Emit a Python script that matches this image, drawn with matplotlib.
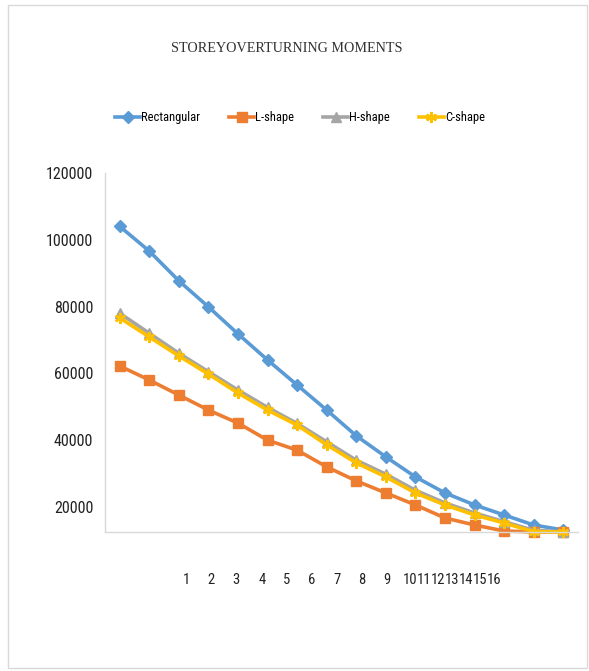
import matplotlib
matplotlib.use("Agg")
import matplotlib.pyplot as plt
from matplotlib.patches import Rectangle

# Storey overturning moments for four plan shapes
storeys = list(range(1, 17))
rectangular = [104000, 96600, 87700, 79900, 71800, 64000, 56500, 49000,
               41300, 35000, 29000, 24200, 20600, 17600, 14600, 13100]
l_shape = [62200, 58000, 53500, 49000, 45100, 40000, 37000, 32000,
           27800, 24200, 20600, 16700, 14600, 12800, 12500, 12500]
h_shape = [78000, 72000, 66000, 60500, 55000, 49800, 45000, 39500,
           34000, 29800, 25000, 21200, 18200, 15600, 13000, 12600]
c_shape = [76600, 70900, 65200, 59800, 54100, 49000, 44500, 38600,
           33200, 29000, 24200, 20600, 17600, 15200, 12600, 12500]

series_names = ["Rectangular", "L-shape", "H-shape", "C-shape"]
y_ticks = [20000, 40000, 60000, 80000, 100000, 120000]
x_tick_labels = [str(s) for s in storeys]

W, H = 589, 671
fig = plt.figure(figsize=(W / 100, H / 100), dpi=100)

# outer chart frame
fig.patches.append(Rectangle((8 / W, 1 - 668 / H), 579 / W, 663 / H,
                             transform=fig.transFigure, fill=False,
                             edgecolor="#d9d9d9", linewidth=1.0))

ax_left, ax_right, ax_top, ax_bottom = 105, 578, 173, 532
ax = fig.add_axes([ax_left / W, 1 - ax_bottom / H,
                   (ax_right - ax_left) / W, (ax_bottom - ax_top) / H])

tick_font = "Roboto Condensed"
styles = [
    dict(color="#5B9BD5", marker="D", markersize=6.5),
    dict(color="#ED7D31", marker="s", markersize=6.5),
    dict(color="#A5A5A5", marker="^", markersize=7.5),
    dict(color="#FFC000", marker=(6, 2, 0), markersize=8, markeredgewidth=1.6),
]
for name, vals, st in zip(series_names, [rectangular, l_shape, h_shape, c_shape], styles):
    ax.plot(storeys, vals, label=name, linewidth=2.6, clip_on=False,
            solid_joinstyle="round", **st)

ax.set_xlim(0.5, 16.5)
ax.set_ylim(12500, 120000)
ax.set_yticks(y_ticks)
ax.set_yticklabels([str(v) for v in y_ticks], fontfamily=tick_font,
                   fontsize=11.5, color="#222222")
ax.tick_params(axis="y", length=0, pad=8.5)
ax.set_xticks([])

for side in ("top", "right"):
    ax.spines[side].set_visible(False)
for side in ("left", "bottom"):
    ax.spines[side].set_color("#d9d9d9")
    ax.spines[side].set_linewidth(1.0)

# category labels along the bottom
label_px = [186, 211, 236, 262, 287, 312, 337, 362, 387,
            410, 424, 438, 452, 466, 480, 494]
label_y = (ax_bottom - 580) / (ax_bottom - ax_top)
for lab, px in zip(x_tick_labels, label_px):
    ax.text((px - ax_left) / (ax_right - ax_left), label_y, lab,
            transform=ax.transAxes, ha="center", va="center",
            fontfamily=tick_font, fontsize=10.5, color="#222222")

fig.text(287 / W, 1 - 48 / H, "STOREYOVERTURNING MOMENTS",
         ha="center", va="center", fontfamily="Liberation Serif",
         fontsize=10.2, color="#333333")

fig.legend(loc="center", bbox_to_anchor=(300 / W, 1 - 118 / H), ncol=4,
           frameon=False, handlelength=2.0, handletextpad=0.1,
           columnspacing=2.3, prop={"family": tick_font, "size": 9})

fig.savefig("out.png", dpi=100, facecolor="white")
